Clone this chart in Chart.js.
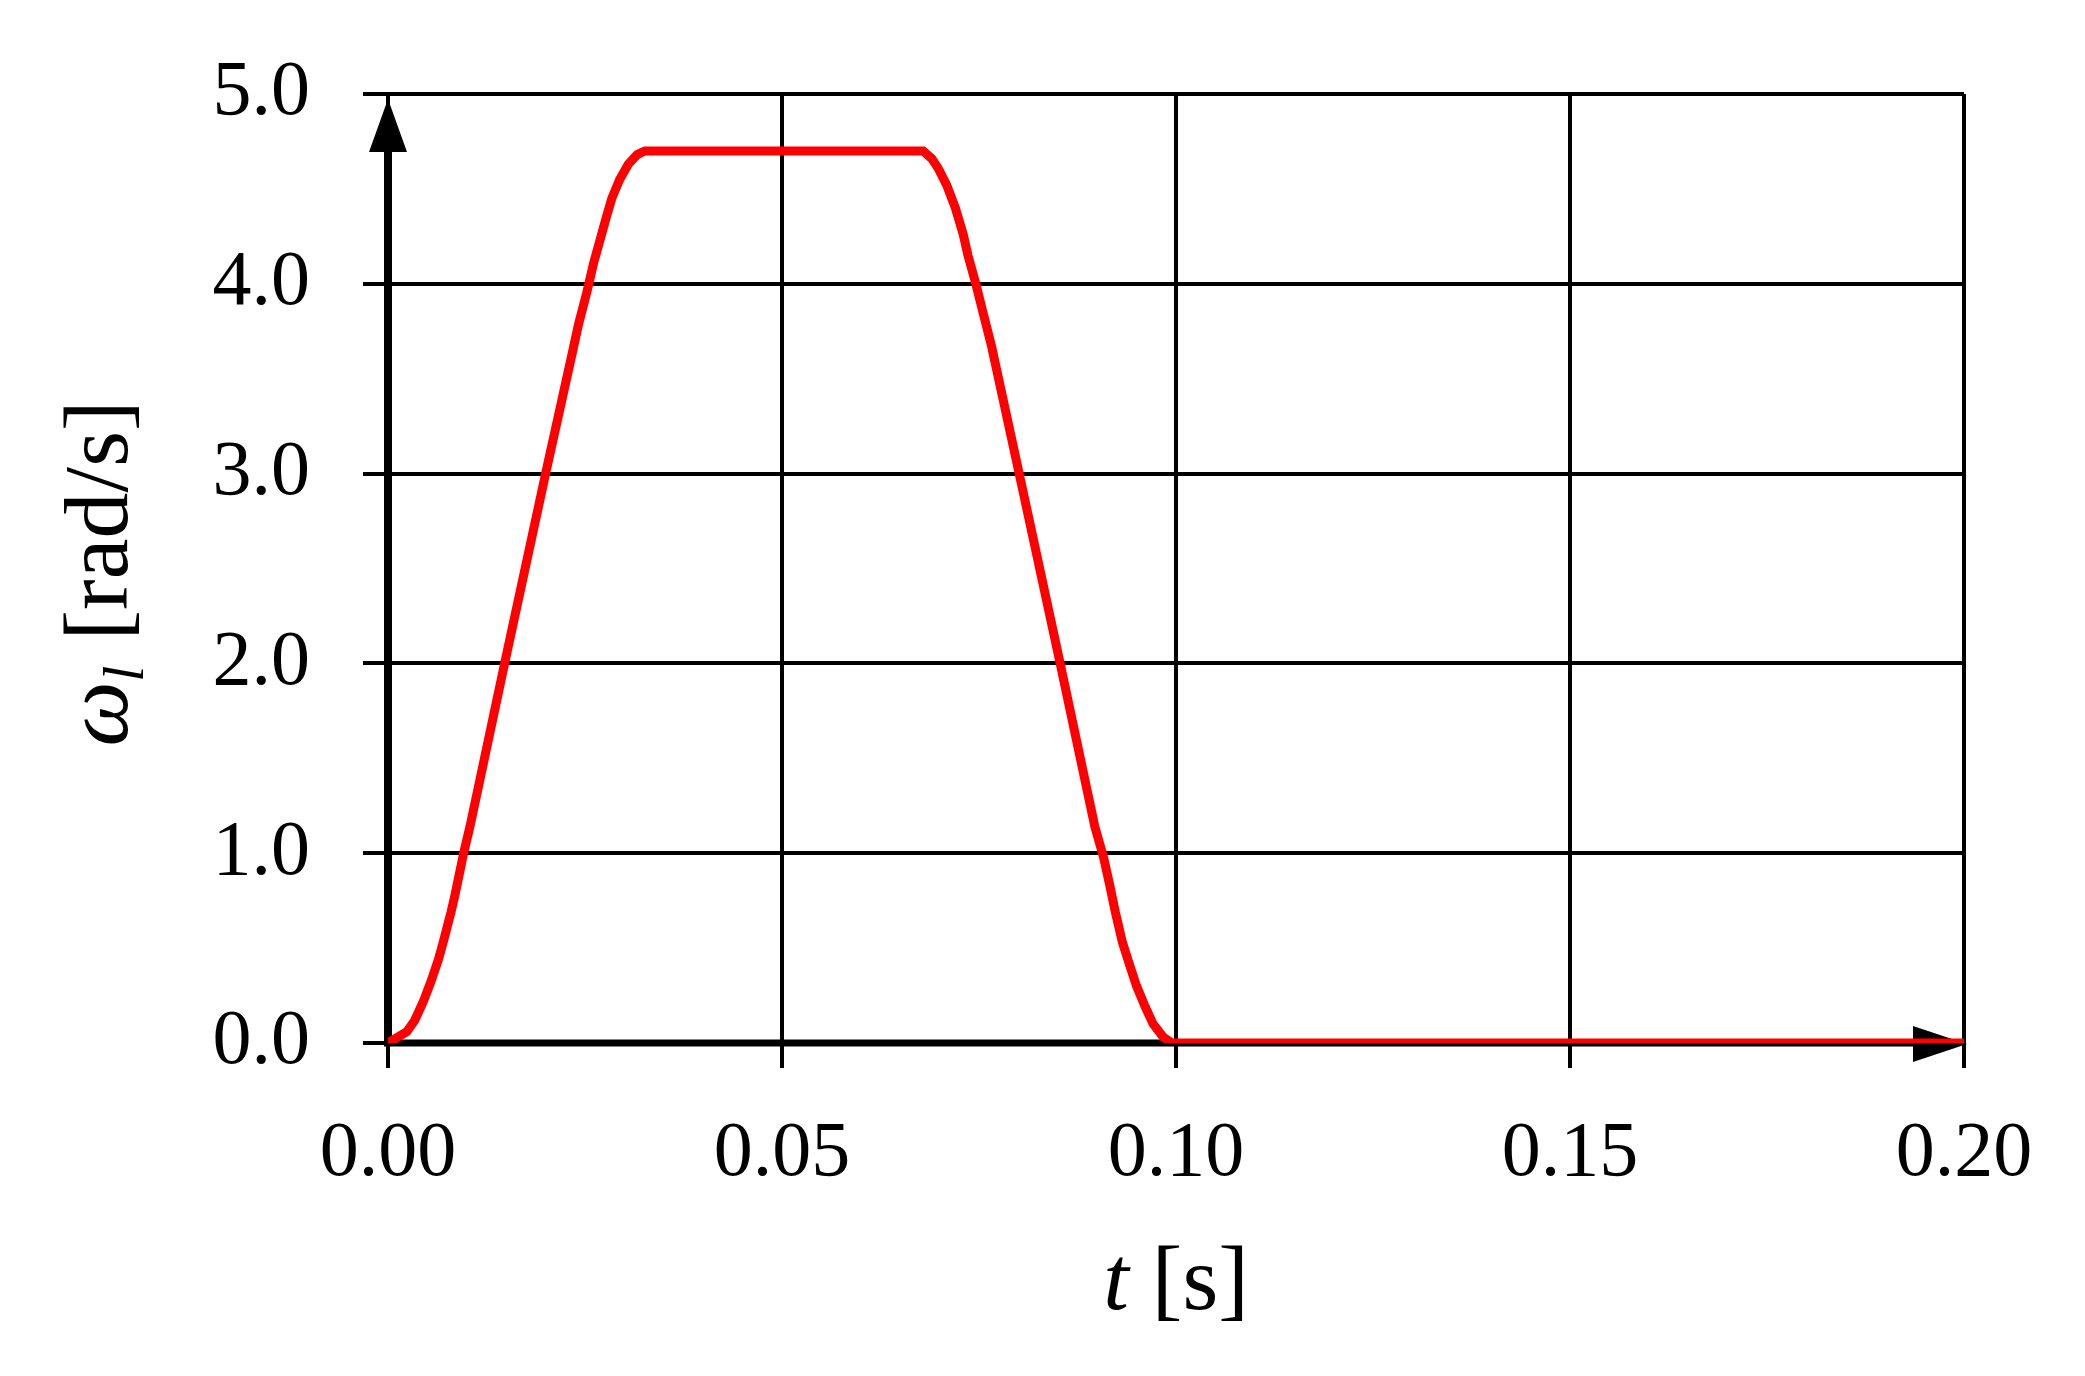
<!DOCTYPE html>
<html>
<head>
<meta charset="utf-8">
<script src="https://cdn.jsdelivr.net/npm/chart.js@4.4.1/dist/chart.umd.min.js"></script>
<style>
  html, body { margin: 0; padding: 0; background: #ffffff; }
  #wrap { width: 2085px; height: 1376px; }
</style>
</head>
<body>
<div id="wrap"><canvas id="c" width="2085" height="1376"></canvas></div>
<script>
// ---- data ----
const timeValues = [0, 0.0024, 0.0034, 0.0045, 0.0055, 0.0064, 0.0070, 0.0080, 0.0085, 0.0091, 0.0096, 0.0104,
  0.0148, 0.0200, 0.0233, 0.0242, 0.0252, 0.0261, 0.0271, 0.0277, 0.0284, 0.0294, 0.0305, 0.0316, 0.0326,
  0.0679, 0.0690, 0.0698, 0.0709, 0.0720, 0.0730, 0.0736, 0.0746, 0.0755, 0.0766, 0.0801, 0.0853,
  0.0897, 0.0908, 0.0916, 0.0923, 0.0932, 0.0942, 0.0950, 0.0961, 0.0971, 0.0984, 0.0995, 0.2];
const omegaValues = [0, 0.06, 0.12, 0.22, 0.33, 0.44, 0.53, 0.69, 0.78, 0.90, 1.00, 1.14,
  2.00, 3.00, 3.62, 3.79, 3.95, 4.11, 4.26, 4.35, 4.45, 4.55, 4.63, 4.68, 4.70,
  4.70, 4.66, 4.61, 4.52, 4.40, 4.26, 4.15, 4.00, 3.85, 3.67, 3.00, 2.00,
  1.14, 0.98, 0.83, 0.69, 0.53, 0.40, 0.30, 0.19, 0.10, 0.03, 0, 0];
const xTickValues = [0, 0.05, 0.10, 0.15, 0.20];
const xTickLabels = ['0.00', '0.05', '0.10', '0.15', '0.20'];
const yTickValues = [0, 1, 2, 3, 4, 5];
const yTickLabels = ['0.0', '1.0', '2.0', '3.0', '4.0', '5.0'];
const xTitle = { italic: 't', rest: ' [s]' };
const yTitle = { main: 'ω', sub: 'l', rest: ' [rad/s]' };

const SERIF = "'Liberation Serif', 'DejaVu Serif', serif";

const points = timeValues.map((t, i) => ({ x: t, y: omegaValues[i] }));

// axes with arrowheads (drawn from scale positions) and axis titles
const axesPlugin = {
  id: 'axesArrows',
  beforeDatasetsDraw(chart) {
    const ctx = chart.ctx;
    const xs = chart.scales.x, ys = chart.scales.y;
    const x0 = xs.getPixelForValue(xTickValues[0]);
    const x1 = xs.getPixelForValue(xTickValues[xTickValues.length - 1]);
    const y0 = ys.getPixelForValue(yTickValues[0]);
    const y1 = ys.getPixelForValue(yTickValues[yTickValues.length - 1]);
    ctx.save();
    ctx.fillStyle = '#000';
    ctx.strokeStyle = '#000';
    // y axis thick line
    ctx.lineWidth = 8;
    ctx.beginPath();
    ctx.moveTo(x0, y0 + 3);
    ctx.lineTo(x0, y1 + 56);
    ctx.stroke();
    // y arrowhead
    ctx.beginPath();
    ctx.moveTo(x0, y1 + 5);
    ctx.lineTo(x0 - 19, y1 + 58);
    ctx.lineTo(x0 + 19, y1 + 58);
    ctx.closePath();
    ctx.fill();
    // x axis thick line
    ctx.lineWidth = 7;
    ctx.beginPath();
    ctx.moveTo(x0 - 4, y0);
    ctx.lineTo(x1 - 50, y0);
    ctx.stroke();
    // x arrowhead
    ctx.beginPath();
    ctx.moveTo(x1 + 3, y0 + 1);
    ctx.lineTo(x1 - 51, y0 - 17);
    ctx.lineTo(x1 - 51, y0 + 19);
    ctx.closePath();
    ctx.fill();
    ctx.restore();
  },
  afterDraw(chart) {
    const ctx = chart.ctx;
    const area = chart.chartArea;
    ctx.save();
    ctx.fillStyle = '#000';
    ctx.textBaseline = 'alphabetic';
    // x title
    const fBig = 92;
    const fItal = 'italic ' + fBig + 'px ' + SERIF;
    const fNorm = fBig + 'px ' + SERIF;
    const fSub = 'italic 58px ' + SERIF;
    ctx.font = fItal;
    const wT = ctx.measureText(xTitle.italic).width;
    ctx.font = fNorm;
    const wR = ctx.measureText(xTitle.rest).width;
    const cx = (area.left + area.right) / 2;
    let sx = cx - (wT + wR) / 2;
    const baseY = 1309;
    ctx.font = fItal;
    ctx.fillText(xTitle.italic, sx, baseY);
    ctx.font = fNorm;
    ctx.fillText(xTitle.rest, sx + wT, baseY);
    // y title (rotated)
    ctx.font = fItal;
    const wM = ctx.measureText(yTitle.main).width;
    ctx.font = fSub;
    const wS = ctx.measureText(yTitle.sub).width;
    ctx.font = fNorm;
    const wY = ctx.measureText(yTitle.rest).width;
    const total = wM + wS + 2 + wY;
    const cy = (area.top + area.bottom) / 2 + 5;
    ctx.translate(127, cy);
    ctx.rotate(-Math.PI / 2);
    let px = -total / 2;
    ctx.font = fItal;
    ctx.fillText(yTitle.main, px, 0);
    px += wM;
    ctx.font = fSub;
    ctx.fillText(yTitle.sub, px, 16);
    px += wS + 2;
    ctx.font = fNorm;
    ctx.fillText(yTitle.rest, px, 0);
    ctx.restore();
  }
};

new Chart(document.getElementById('c'), {
  type: 'line',
  data: {
    datasets: [{
      data: points,
      borderColor: '#ff0000',
      borderWidth: 9,
      pointRadius: 0,
      tension: 0,
      fill: false
    }]
  },
  options: {
    responsive: false,
    animation: false,
    devicePixelRatio: 1,
    layout: { padding: { left: 0, right: 121, top: 94, bottom: 0 } },
    plugins: { legend: { display: false }, tooltip: { enabled: false } },
    scales: {
      x: {
        type: 'linear',
        min: 0, max: 0.2,
        afterBuildTicks: s => { s.ticks = xTickValues.map(v => ({ value: v })); },
        afterFit: s => { s.height = 333; },
        border: { display: false },
        grid: { color: '#000', lineWidth: 4, tickLength: 25, drawTicks: true },
        ticks: {
          color: '#000',
          font: { family: SERIF, size: 78 },
          padding: 40,
          maxRotation: 0,
          callback: (v, i) => xTickLabels[i]
        }
      },
      y: {
        type: 'linear',
        min: 0, max: 5,
        afterBuildTicks: s => { s.ticks = yTickValues.map(v => ({ value: v })); },
        afterFit: s => { s.width = 388; },
        border: { display: false },
        grid: { color: '#000', lineWidth: 4, tickLength: 25, drawTicks: true },
        ticks: {
          color: '#000',
          font: { family: SERIF, size: 78, lineHeight: 1.0 },
          padding: 53,
          callback: (v, i) => yTickLabels[i]
        }
      }
    }
  },
  plugins: [axesPlugin]
});
</script>
</body>
</html>
